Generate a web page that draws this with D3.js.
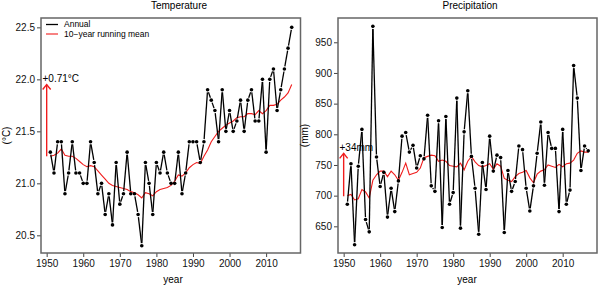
<!DOCTYPE html>
<html>
<head>
<meta charset="utf-8">
<script src="https://cdn.jsdelivr.net/npm/d3@7"></script>
<style>
  body { margin: 0; background: #fff; }
  svg { display: block; font-family: "Liberation Sans", Arial, Helvetica, sans-serif; }
</style>
</head>
<body>
<svg id="chart" width="600" height="286"></svg>
<script>
// data
const years = d3.range(1951, 2018);

const tempAnnual = [
  21.3, 21.1, 21.4, 21.4, 20.9, 21.1, 21.4, 21.1, 21.1, 21.0,
  21.0, 21.4, 21.2, 20.9, 21.0, 20.7, 20.9, 20.6, 21.2, 20.8,
  20.9, 21.3, 20.9, 20.9, 20.7, 20.4, 21.2, 21.0, 20.7, 21.2,
  21.1, 21.3, 21.1, 21.0, 21.0, 21.3, 20.9, 21.1, 21.4, 21.4,
  21.4, 21.2, 21.4, 21.9, 21.8, 21.7, 21.4, 21.9, 21.5, 21.7,
  21.5, 21.6, 21.8, 21.5, 21.8, 21.9, 21.6, 21.6, 22.0, 21.3,
  22.0, 22.1, 21.7, 21.9, 22.1, 22.3, 22.5
];

const tempMean = [
  21.26, 21.27, 21.29, 21.33, 21.27, 21.26, 21.26, 21.24, 21.21, 21.18,
  21.16, 21.17, 21.16, 21.12, 21.08, 21.04, 21.00, 20.98, 20.97, 20.96,
  20.95, 20.94, 20.92, 20.91, 20.89, 20.86, 20.91, 20.90, 20.88, 20.92,
  20.94, 20.95, 20.96, 20.98, 21.02, 21.08, 21.07, 21.10, 21.15, 21.18,
  21.20, 21.19, 21.26, 21.32, 21.40, 21.45, 21.50, 21.53, 21.56, 21.58,
  21.60, 21.63, 21.64, 21.64, 21.67, 21.67, 21.66, 21.70, 21.67, 21.70,
  21.75, 21.75, 21.76, 21.80, 21.83, 21.87, 21.95
];

const precAnnual = [
  686, 752, 620, 748, 808, 661, 641, 976, 763, 715,
  738, 665, 712, 674, 724, 797, 803, 771, 782, 745,
  765, 760, 831, 716, 707, 822, 648, 829, 686, 705,
  859, 647, 804, 871, 764, 712, 637, 754, 710, 797,
  740, 766, 762, 640, 741, 707, 723, 781, 775, 712,
  675, 716, 769, 820, 717, 803, 777, 777, 674, 808,
  686, 709, 912, 859, 741, 781, 773
];

const precMean = [
  700, 702, 693, 695, 710, 706, 696, 725, 734, 740,
  740, 731, 740, 734, 725, 738, 753, 734, 736, 738,
  745, 762, 764, 766, 765, 756, 758, 756, 749, 748,
  747, 753, 742, 756, 764, 755, 749, 747, 749, 752,
  743, 752, 748, 728, 725, 723, 731, 736, 738, 741,
  729, 721, 735, 740, 742, 750, 748, 746, 751, 747,
  752, 753, 758, 769, 773, 771, 771
];

const yearTicks = [1950, 1960, 1970, 1980, 1990, 2000, 2010];
const tempTicks = [20.5, 21.0, 21.5, 22.0, 22.5];
const precTicks = [650, 700, 750, 800, 850, 900, 950];

// arrows: change of the running mean, drawn at 1950
const tempArrow = { year: 1950, from: 21.26, to: 21.95, label: "+0.71\u00b0C" };
const precArrow = { year: 1950, from: 699, to: 769, label: "+34mm" };

const svg = d3.select("#chart");

function panel(opts) {
  const { left, right, top, bottom, xDomain, yDomain } = opts;
  const x = d3.scaleLinear().domain(xDomain).range([left, right]);
  const y = d3.scaleLinear().domain(yDomain).range([bottom, top]);
  const g = svg.append("g");

  // title
  g.append("text")
    .attr("x", opts.titleX)
    .attr("y", 9)
    .attr("text-anchor", "middle")
    .attr("font-size", 10)
    .text(opts.title);

  // y axis
  g.append("g")
    .attr("transform", `translate(${left},0)`)
    .call(d3.axisLeft(y).tickValues(opts.yTicks).tickFormat(opts.yFormat).tickSize(4).tickPadding(2))
    .call((a) => a.select(".domain").remove())
    .call((a) => a.selectAll("line").attr("stroke", "#444"))
    .call((a) => a.selectAll("text").attr("font-size", 10).attr("fill", "#111").attr("font-family", null));

  // x axis
  g.append("g")
    .attr("transform", `translate(0,${bottom})`)
    .call(d3.axisBottom(x).tickValues(yearTicks).tickFormat(d3.format("d")).tickSize(4).tickPadding(3))
    .call((a) => a.select(".domain").remove())
    .call((a) => a.selectAll("line").attr("stroke", "#444"))
    .call((a) => a.selectAll("text").attr("font-size", 10).attr("fill", "#111").attr("font-family", null));

  // axis titles
  g.append("text")
    .attr("x", opts.xLabelX)
    .attr("y", 283)
    .attr("text-anchor", "middle")
    .attr("font-size", 10)
    .text("year");

  g.append("text")
    .attr("transform", `translate(${opts.yLabelX},${(top + bottom) / 2}) rotate(-90)`)
    .attr("text-anchor", "middle")
    .attr("font-size", 10)
    .text(opts.yLabel);

  // red running mean
  g.append("path")
    .datum(opts.mean)
    .attr("fill", "none")
    .attr("stroke", "#f01c1c")
    .attr("stroke-width", 1.1)
    .attr("d", d3.line().x((d, i) => x(years[i])).y((d) => y(d)));

  // annual values, R type="b": segments with gaps around the points
  const pts = opts.annual.map((d, i) => [x(years[i]), y(d)]);
  const gap = 2.6;
  const segs = [];
  for (let i = 1; i < pts.length; i++) {
    const [x1, y1] = pts[i - 1];
    const [x2, y2] = pts[i];
    const len = Math.hypot(x2 - x1, y2 - y1);
    if (len <= 2 * gap) continue;
    const ux = (x2 - x1) / len, uy = (y2 - y1) / len;
    segs.push([x1 + ux * gap, y1 + uy * gap, x2 - ux * gap, y2 - uy * gap]);
  }
  g.append("g")
    .selectAll("line")
    .data(segs)
    .join("line")
    .attr("x1", (d) => d[0])
    .attr("y1", (d) => d[1])
    .attr("x2", (d) => d[2])
    .attr("y2", (d) => d[3])
    .attr("stroke", "#000")
    .attr("stroke-width", 1.3);

  g.append("g")
    .selectAll("circle")
    .data(pts)
    .join("circle")
    .attr("cx", (d) => d[0])
    .attr("cy", (d) => d[1])
    .attr("r", 1.8)
    .attr("fill", "#000");

  // arrow
  const ax = x(opts.arrow.year);
  const ay0 = y(opts.arrow.from);
  const ay1 = y(opts.arrow.to);
  g.append("line")
    .attr("x1", ax).attr("x2", ax)
    .attr("y1", ay0).attr("y2", ay1)
    .attr("stroke", "#f01c1c")
    .attr("stroke-width", 1.4);
  g.append("path")
    .attr("d", `M${ax - 4},${ay1 + 5}L${ax},${ay1}L${ax + 4},${ay1 + 5}`)
    .attr("fill", "none")
    .attr("stroke", "#f01c1c")
    .attr("stroke-width", 1.4);
  g.append("text")
    .attr("x", left + 1.5)
    .attr("y", ay1 - 6)
    .attr("dy", "0.35em")
    .attr("font-size", 10)
    .text(opts.arrow.label);

  // box
  g.append("rect")
    .attr("x", left)
    .attr("y", top)
    .attr("width", right - left)
    .attr("height", bottom - top)
    .attr("fill", "none")
    .attr("stroke", "#666")
    .attr("stroke-width", 1.5);

  return { x, y, g };
}

const L = panel({
  left: 41, right: 300.5, top: 18, bottom: 253,
  xDomain: [1948.45, 2019.4], yDomain: [20.33, 22.59],
  title: "Temperature", titleX: 179, xLabelX: 173,
  yTicks: tempTicks, yFormat: d3.format(".1f"),
  yLabel: "(\u00b0C)", yLabelX: 10,
  annual: tempAnnual, mean: tempMean, arrow: tempArrow
});

panel({
  left: 338, right: 597, top: 18, bottom: 253,
  xDomain: [1948.45, 2019.4], yDomain: [606.5, 989.6],
  title: "Precipitation", titleX: 470, xLabelX: 467,
  yTicks: precTicks, yFormat: d3.format("d"),
  yLabel: "(mm)", yLabelX: 308,
  annual: precAnnual, mean: precMean, arrow: precArrow
});

// legend (temperature panel only)
const legend = [
  { label: "Annual", color: "#000", width: 1.3 },
  { label: "10\u2212year running mean", color: "#f01c1c", width: 1.1 }
];
const lg = L.g.append("g").attr("transform", "translate(46,24.5)");
lg.selectAll("line")
  .data(legend)
  .join("line")
  .attr("x1", 0).attr("x2", 12)
  .attr("y1", (d, i) => i * 9.5).attr("y2", (d, i) => i * 9.5)
  .attr("stroke", (d) => d.color)
  .attr("stroke-width", (d) => d.width);
lg.selectAll("text")
  .data(legend)
  .join("text")
  .attr("x", 18)
  .attr("y", (d, i) => i * 9.5)
  .attr("dy", "0.35em")
  .attr("font-size", 8.5)
  .text((d) => d.label);
</script>
</body>
</html>
